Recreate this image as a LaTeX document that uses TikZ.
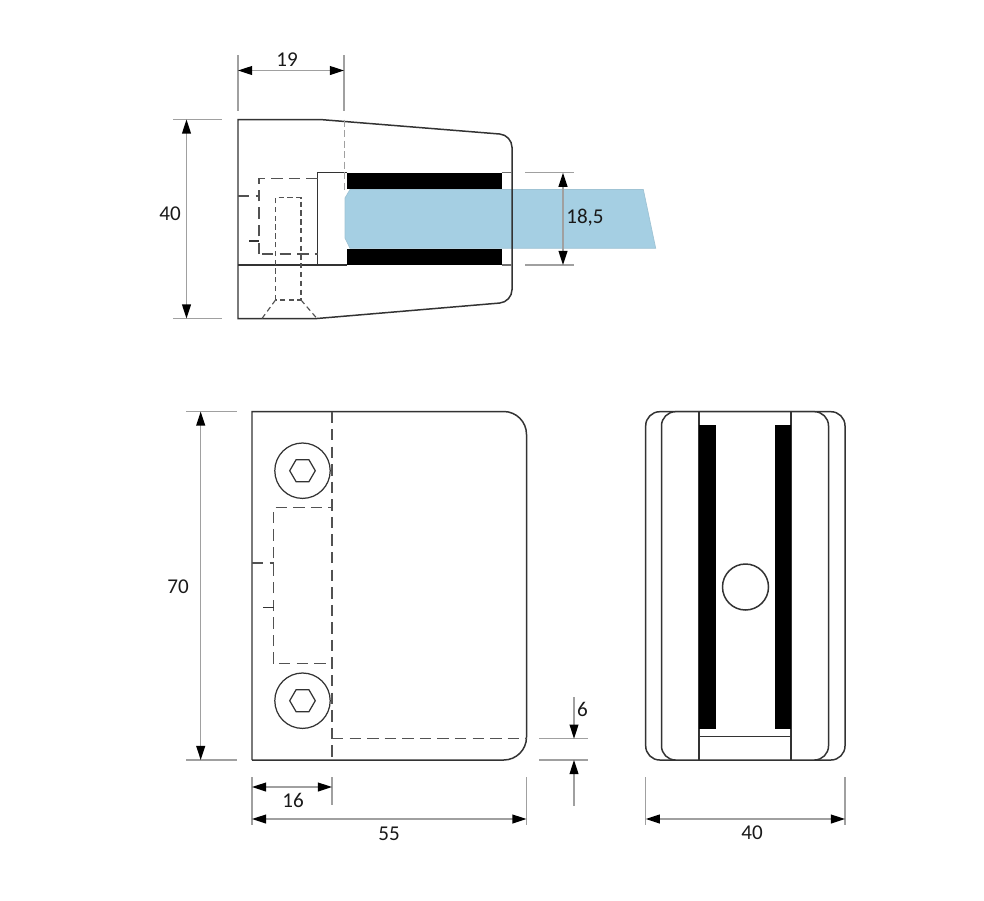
\documentclass[tikz,border=0pt]{standalone}
\usepackage{fontspec}
\setmainfont{Carlito}
\usetikzlibrary{arrows.meta}
\definecolor{bodyline}{HTML}{333333}
\definecolor{dimgray}{HTML}{A0A0A0}
\definecolor{glassblue}{HTML}{A5CFE3}
\tikzset{
  outline/.style={draw=bodyline, line width=0.85pt},
  hidden/.style={bodyline!85, line width=0.65pt, dash pattern=on 6.5pt off 3.5pt},
  hiddenfine/.style={bodyline!85, line width=0.65pt, dash pattern=on 3pt off 2pt},
  extline/.style={dimgray, line width=0.8pt},
  dimline/.style={dimgray, line width=0.8pt, {Triangle[black,length=8pt,width=5pt]}-{Triangle[black,length=8pt,width=5pt]}},
  dimhalf/.style={dimgray, line width=0.8pt, -{Triangle[black,length=8pt,width=5pt]}},
  dimtext/.style={font=\fontsize{12}{12}\selectfont, text=black!90, inner sep=0pt}
}

\begin{document}
\begin{tikzpicture}[x=0.02cm,y=-0.02cm]
    \useasboundingbox (0,0) rectangle (984,900);

    % side view
    \fill[glassblue, draw=glassblue!85!gray, line width=0.4pt] (350,189.5) -- (643.3,189.5) -- (655.7,248.3) -- (350,248.3) -- (345,238) -- (345,198) -- cycle;
    \draw[outline] (238,119.5) -- (320,119.5) [rounded corners=7pt] -- (512,135) -- (512,302) [sharp corners] -- (317,318.5) -- (238,318.5) -- cycle;
    \draw[outline] (238,264.8) -- (347,264.8);
    \draw[outline] (347,172.7) -- (317.7,172.7) -- (317.7,264.8);
    \fill[black] (346.7,172.7) rectangle (501.7,189);
    \fill[black] (346.7,248.7) rectangle (501.7,265);
    \draw[extline, bodyline!70] (501.7,172.7) -- (512,172.7);
    \draw[extline, bodyline!70] (501.7,265) -- (512,265);
    \draw[extline, dash pattern=on 4pt off 2pt, line width=0.5pt] (344,119.5) -- (344,190);

    \draw[hidden] (259,254) -- (259,178.5) -- (317.7,178.5);
    \draw[hidden] (262,254) -- (317.7,254);
    \draw[hidden] (238,196) -- (259,196);
    \draw[bodyline, line width=0.6pt] (249,241) -- (259,241);
    \draw[hiddenfine] (275.5,300) -- (275.5,197.7) -- (301,197.7) -- (301,300) -- cycle;
    \draw[hiddenfine] (275.5,300) -- (262,318.5);
    \draw[hiddenfine] (301,300) -- (317,318.5);

    \draw[extline] (238,55) -- (238,111);
    \draw[extline] (344,55) -- (344,111);
    \draw[dimline] (238,70.5) -- (344,70.5);
    \node[dimtext] (width19) at (287,59.5) {19};

    \draw[extline] (173,119.5) -- (222,119.5);
    \draw[extline] (173,318.5) -- (222,318.5);
    \draw[dimline] (186.5,119.5) -- (186.5,318.5);
    \node[dimtext] (height40) at (170,214) {40};

    \draw[extline] (525,172.7) -- (574,172.7);
    \draw[extline] (525,265) -- (574,265);
    \draw[dimline] (563,172.7) -- (563,265);
    \node[dimtext] (glass185) at (585,218) {18,5};

    % front view
    \draw[outline] (252,760) -- (252,411.5) [rounded corners=13pt] -- (526.5,411.5) -- (526.5,760) [sharp corners] -- (252,760);
    \draw[hidden] (332,411.5) -- (332,760);
    \draw[hidden] (332,738.7) -- (526.5,738.7);
    \draw[hidden] (273.5,663.7) -- (273.5,507.7) -- (332,507.7);
    \draw[hidden] (279,663.7) -- (332,663.7);
    \draw[hidden] (252,563) -- (273.5,563);
    \draw[bodyline, line width=0.6pt] (263,607.7) -- (273.5,607.7);
    \foreach \cy in {470.7,700.7} {
        \draw[outline, line width=0.7pt] (302.5,\cy) circle (27.7);
        \draw[outline, line width=0.7pt, shift={(302.5,\cy)}] (-12.8,0) -- (-6.4,-11) -- (6.4,-11) -- (12.8,0) -- (6.4,11) -- (-6.4,11) -- cycle;
    }

    \draw[extline] (186,411.5) -- (237,411.5);
    \draw[extline] (186,760) -- (237,760);
    \draw[dimline] (200.7,411.5) -- (200.7,760);
    \node[dimtext] (height70) at (178,587) {70};

    \draw[extline] (252,777) -- (252,825);
    \draw[extline] (332,777) -- (332,805);
    \draw[dimline] (252,787) -- (332,787);
    \node[dimtext] (depth16) at (293,800) {16};

    \draw[extline] (526.5,777) -- (526.5,825);
    \draw[dimline] (252,819) -- (526.5,819);
    \node[dimtext] (depth55) at (389,834) {55};

    \draw[extline] (539,738.7) -- (588,738.7);
    \draw[extline] (539,760) -- (588,760);
    \draw[dimhalf] (574,697) -- (574,738.7);
    \draw[dimhalf] (574,806) -- (574,760);
    \node[dimtext] (lip6) at (582.5,709) {6};

    % end view
    \draw[outline, rounded corners=8pt] (645.7,411.7) rectangle (845,760);
    \draw[outline, fill=white, rounded corners=8pt] (661.5,411.7) rectangle (828.5,760);
    \draw[outline] (699,411.7) -- (699,760);
    \draw[outline] (791,411.7) -- (791,760);
    \fill[black] (699,425) rectangle (716,729.3);
    \fill[black] (774.7,425) rectangle (791,729.3);
    \draw[outline] (699,736.5) -- (791,736.5);
    \draw[outline] (745.5,587) circle (23);

    \draw[extline] (645.7,777) -- (645.7,825);
    \draw[extline] (845,777) -- (845,825);
    \draw[dimline] (645.7,819) -- (845,819);
    \node[dimtext] (width40) at (752,833) {40};
\end{tikzpicture}
\end{document}
